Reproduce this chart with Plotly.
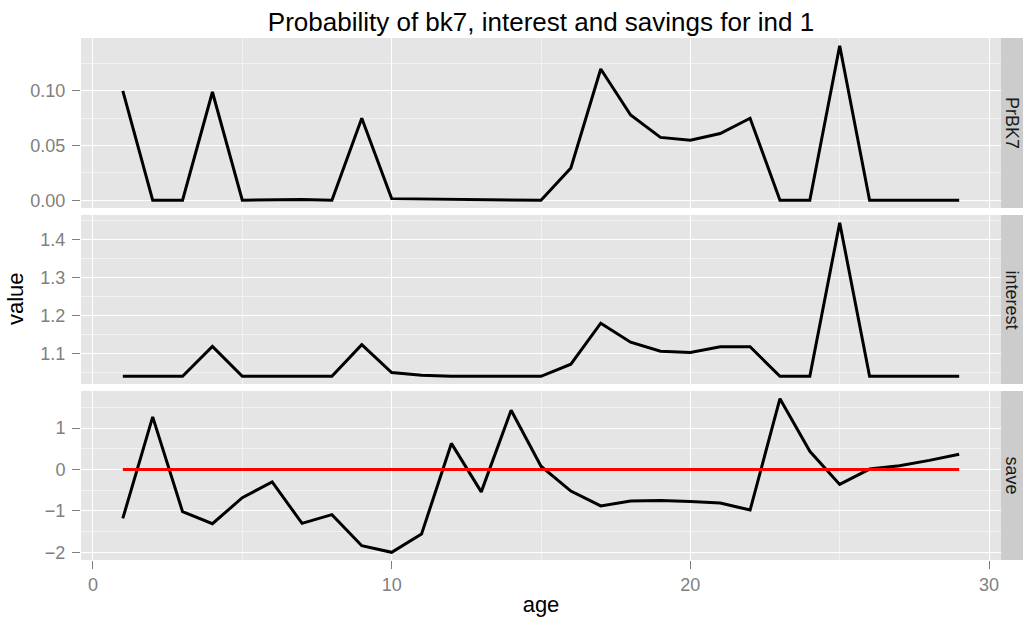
import plotly.graph_objects as go

# ---------------- data ----------------
ages = list(range(1, 30))
prbk7 = [0.100, 0.0, 0.0, 0.099, 0.0, 0.0003, 0.0008, 0.0, 0.075, 0.0015,
         0.0012, 0.0003, 0.0, 0.0, 0.0, 0.0296, 0.120, 0.078, 0.0575, 0.055,
         0.061, 0.075, 0.0, 0.0, 0.1413, 0.0, 0.0, 0.0, 0.0]
interest = [1.04, 1.04, 1.04, 1.119, 1.04, 1.04, 1.04, 1.04, 1.1236, 1.05,
            1.043, 1.04, 1.04, 1.04, 1.04, 1.072, 1.180, 1.130, 1.106, 1.103,
            1.118, 1.118, 1.04, 1.04, 1.445, 1.04, 1.04, 1.04, 1.04]
save = [-1.18, 1.27, -1.02, -1.31, -0.68, -0.30, -1.30, -1.09, -1.84, -2.00,
        -1.56, 0.63, -0.54, 1.43, 0.08, -0.52, -0.88, -0.76, -0.75, -0.77,
        -0.81, -0.98, 1.71, 0.44, -0.36, 0.01, 0.09, 0.22, 0.37]
save_ref = [0.0] * len(ages)
panel_labels = ["PrBK7", "interest", "save"]
x_ticks = [0, 10, 20, 30]

TITLE = "Probability of bk7, interest and savings for ind 1"

# ---------------- layout constants ----------------
W, H = 1023, 619
ML, MR, MT, MB = 81, 0, 38, 59
plot_w = W - ML - MR
plot_h = H - MT - MB
strip_w = 22
xdom_end = (plot_w - strip_w) / plot_w

# panel pixel extents (from top of figure)
panels_px = [(38, 208), (215, 384), (391, 560)]


def pdom(top, bot):
    return [(H - MB - bot) / plot_h, (H - MB - top) / plot_h]


def expand(vals, frac=0.05):
    lo, hi = min(vals), max(vals)
    d = (hi - lo) * frac
    return [lo - d, hi + d]


FONT = "Liberation Sans, Arial, sans-serif"
GREY50 = "#7F7F7F"

fig = go.Figure()

series = [prbk7, interest, save]
axes_ids = ["", "2", "3"]
for s, aid in zip(series, axes_ids):
    fig.add_trace(go.Scatter(x=ages, y=s, mode="lines",
                             line=dict(color="black", width=3),
                             xaxis="x" + aid, yaxis="y" + aid,
                             showlegend=False, hoverinfo="x+y"))
fig.add_trace(go.Scatter(x=ages, y=save_ref, mode="lines",
                         line=dict(color="#FF0000", width=3),
                         xaxis="x3", yaxis="y3", showlegend=False))

xrange = expand(ages)
yspecs = [
    dict(rng=expand(prbk7), dtick=0.05, fmt=".2f"),
    dict(rng=expand(interest), dtick=0.1, fmt=".1f"),
    dict(rng=expand(save), dtick=1, fmt="d"),
]

layout = dict(
    width=W, height=H,
    margin=dict(l=ML, r=MR, t=MT, b=MB, pad=0),
    paper_bgcolor="white", plot_bgcolor="#E5E5E5",
    font=dict(family=FONT, color="black"),
    title=dict(text=TITLE, x=(ML + (plot_w - strip_w) / 2) / W, xanchor="center",
               y=1 - 22 / H, yanchor="middle",
               font=dict(size=26, family=FONT, color="black")),
    showlegend=False,
)

for i, (aid, (top, bot), ys) in enumerate(zip(axes_ids, panels_px, yspecs)):
    bottom = (i == 2)
    layout["xaxis" + aid] = dict(
        domain=[0, xdom_end], anchor="y" + aid, range=xrange,
        tickmode="array", tickvals=x_ticks,
        showticklabels=bottom, ticks="outside" if bottom else "",
        ticklen=8, tickwidth=1, tickcolor=GREY50,
        tickfont=dict(size=18, color=GREY50, family=FONT),
        showgrid=True, gridcolor="white", gridwidth=1.3,
        minor=dict(showgrid=True, gridcolor="#F2F2F2", gridwidth=0.8,
                   tickmode="array", tickvals=[5, 15, 25]),
        zeroline=False, showline=False,
        title=dict(text="age", font=dict(size=22, family=FONT, color="black"),
                   standoff=3) if bottom else None,
        fixedrange=True,
    )
    if i > 0:
        layout["xaxis" + aid]["matches"] = "x"
    layout["yaxis" + aid] = dict(
        domain=pdom(top, bot), anchor="x" + aid, range=ys["rng"],
        tick0=0, dtick=ys["dtick"], tickformat=ys["fmt"],
        ticks="outside", ticklen=8, tickwidth=1, tickcolor=GREY50,
        tickfont=dict(size=18, color=GREY50, family=FONT),
        showgrid=True, gridcolor="white", gridwidth=1.3,
        minor=dict(showgrid=True, gridcolor="#F2F2F2", gridwidth=0.8,
                   tick0=ys["dtick"] / 2, dtick=ys["dtick"]),
        zeroline=False, showline=False, ticklabelstandoff=3,
        fixedrange=True,
    )

fig.update_layout(**layout)

# strips and labels
shapes = []
annotations = []
for (top, bot), lab in zip(panels_px, panel_labels):
    d = pdom(top, bot)
    shapes.append(dict(type="rect", xref="paper", yref="paper",
                       x0=xdom_end, x1=1.0, y0=d[0], y1=d[1],
                       fillcolor="#CCCCCC", line=dict(width=0), layer="below"))
    annotations.append(dict(text=lab, xref="paper", yref="paper",
                            x=(xdom_end + 1) / 2, y=(d[0] + d[1]) / 2,
                            xanchor="center", yanchor="middle", showarrow=False,
                            textangle=90,
                            font=dict(size=18, color="#1A1A1A", family=FONT)))

annotations.append(dict(text="value", xref="paper", yref="paper",
                        x=-(ML - 15) / plot_w, y=0.5, xanchor="center",
                        yanchor="middle", showarrow=False, textangle=-90,
                        font=dict(size=22, color="black", family=FONT)))

fig.update_layout(shapes=shapes, annotations=annotations)

fig.write_html(
    "out.html",
    config={"displayModeBar": False},
    post_script="document.body.style.margin='0';document.body.style.overflow='hidden';",
)
